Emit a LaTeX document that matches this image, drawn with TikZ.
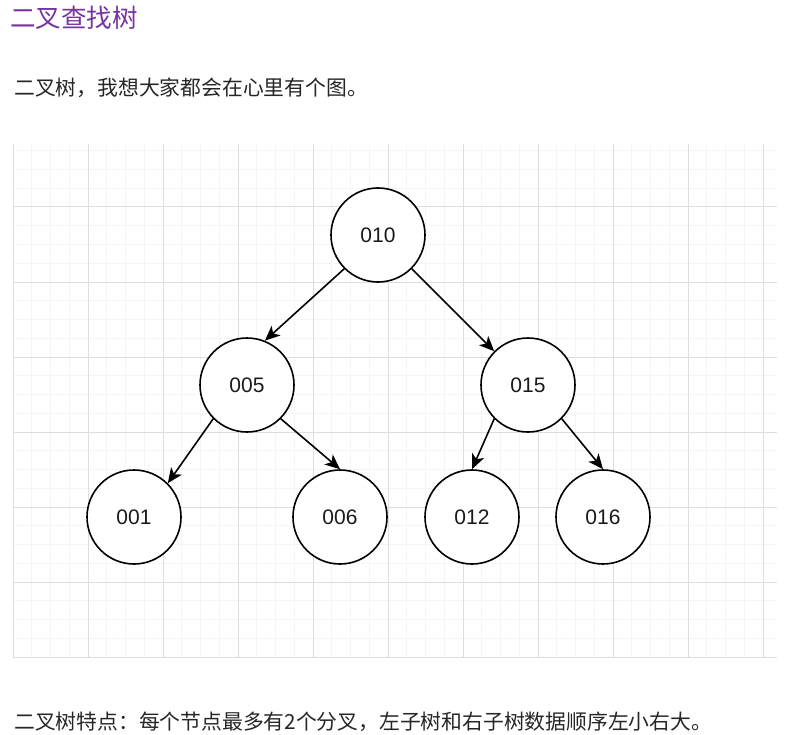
\documentclass[tikz,border=0pt]{standalone}
\usepackage{fontspec}
\setmainfont{Liberation Sans}
\newfontfamily\cjk{Noto Sans CJK SC}
\usetikzlibrary{arrows.meta}
\definecolor{titlepurple}{RGB}{118,52,160}
\definecolor{gridminor}{RGB}{245,245,245}
\definecolor{gridmajor}{RGB}{222,222,222}
\definecolor{numtext}{RGB}{26,26,26}
\tikzset{
  treenode/.style={circle, draw=black, line width=1.6pt, fill=white, minimum size=94pt, inner sep=0pt,
    font=\fontsize{21}{21}\selectfont, text=numtext},
  arr/.style={line width=1.6pt, -{Stealth[length=15pt, width=13pt, inset=4pt]}},
  txt/.style={anchor=west, inner sep=0pt, font=\cjk\fontsize{20.8}{21}\selectfont, text=black!85},
}
\begin{document}
\begin{tikzpicture}[x=1pt,y=-1pt]
\useasboundingbox (0,0) rectangle (794,735);
% grid
\foreach \i in {0,...,40} \draw[gridminor, line width=1pt] (13+\i*18.75,144) -- (13+\i*18.75,657);
\foreach \j in {-3,...,24} \draw[gridminor, line width=1pt] (13,207+\j*18.75) -- (777,207+\j*18.75);
\foreach \k in {0,...,10} \draw[gridmajor, line width=1pt] (13+\k*75,144) -- (13+\k*75,657);
\foreach \k in {0,...,6} \draw[gridmajor, line width=1pt] (13,207+\k*75) -- (777,207+\k*75);
% texts
\node[txt, font=\cjk\fontsize{25.5}{26}\selectfont, text=titlepurple] (title) at (10,18) {二叉查找树};
\node[txt] (intro) at (14,88) {二叉树，我想大家都会在心里有个图。};
\node[txt] (note) at (14,722) {二叉树特点：每个节点最多有2个分叉，左子树和右子树数据顺序左小右大。};
% nodes
\node[treenode] (n010) at (378,235) {010};
\node[treenode] (n005) at (247,385) {005};
\node[treenode] (n015) at (528,385) {015};
\node[treenode] (n001) at (134,517) {001};
\node[treenode] (n006) at (340,517) {006};
\node[treenode] (n012) at (472,517) {012};
\node[treenode] (n016) at (603,517) {016};
% edges
\draw[arr] (n010.-135) -- (n005.68);
\draw[arr] (n010.-45) -- (n015.135);
\draw[arr] (n005.-135) -- (n001.45);
\draw[arr] (n005.-45) -- (n006.north);
\draw[arr] (n015.-135) -- (n012.north);
\draw[arr] (n015.-45) -- (n016.north);
\end{tikzpicture}
\end{document}
